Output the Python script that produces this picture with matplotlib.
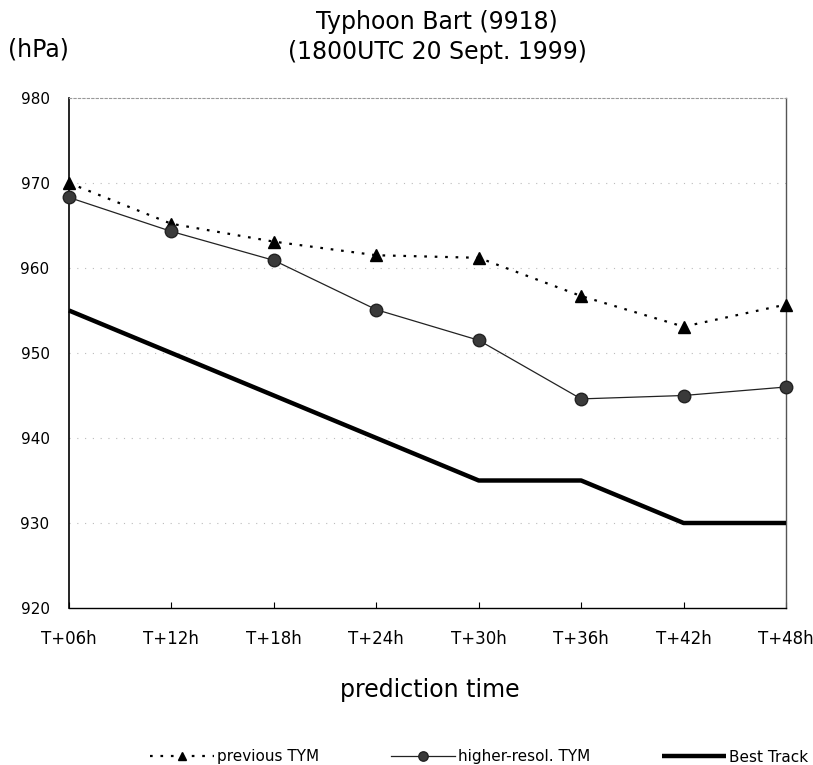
import matplotlib
matplotlib.use("Agg")
import matplotlib.pyplot as plt

times = ["T+06h", "T+12h", "T+18h", "T+24h", "T+30h", "T+36h", "T+42h", "T+48h"]
previous_tym = [970.0, 965.2, 963.1, 961.5, 961.2, 956.7, 953.1, 955.7]
higher_resol_tym = [968.3, 964.3, 960.9, 955.1, 951.5, 944.6, 945.0, 946.0]
best_track = [955, 950, 945, 940, 935, 935, 930, 930]
yticks = [920, 930, 940, 950, 960, 970, 980]

plt.rcParams['font.family'] = ['DejaVu Sans']

fig = plt.figure(figsize=(8.13, 7.65), dpi=100)
ax = fig.add_axes([69/813, 1-608/765, (786-69)/813, (608-98)/765])

x = list(range(len(times)))
ax.plot(x, previous_tym, color='black', lw=1.6, linestyle=(0, (1.2, 3.5)),
        marker='^', markersize=8, markerfacecolor='black', markeredgecolor='black',
        label='previous TYM', clip_on=False, zorder=4)
ax.plot(x, higher_resol_tym, color='#222222', lw=0.9, linestyle='-',
        marker='o', markersize=9, markerfacecolor='#3a3a3a', markeredgecolor='#222222',
        label='higher-resol. TYM', clip_on=False, zorder=4)
ax.plot(x, best_track, color='black', lw=3.2, linestyle='-',
        label='Best Track', clip_on=False, zorder=3, solid_capstyle='butt')

ax.set_xlim(0, len(times)-1)
ax.set_ylim(920, 980)
ax.set_yticks(yticks)
ax.set_xticks(x)
ax.set_xticklabels(times, fontsize=12)
ax.tick_params(axis='x', direction='in', length=4, width=0.8, pad=16)
ax.tick_params(axis='y', length=0, pad=14, labelsize=11)
for t in yticks[1:-1]:
    ax.axhline(t, color='#bbbbbb', lw=0.8, linestyle=(0, (1, 6)), zorder=1)

ax.spines['left'].set_linewidth(1.2)
ax.spines['bottom'].set_linewidth(1.0)
ax.spines['top'].set_color('#999999')
ax.spines['top'].set_linestyle((0, (2, 2)))
ax.spines['top'].set_linewidth(0.8)
ax.spines['right'].set_color('#555555')
ax.spines['right'].set_linestyle((0, (2, 1)))
ax.spines['right'].set_linewidth(1.0)

fig.text(437/813, 1-22/765, "Typhoon Bart (9918)", ha='center', va='center', fontsize=17)
fig.text(437/813, 1-52/765, "(1800UTC 20 Sept. 1999)", ha='center', va='center', fontsize=17)
fig.text(8/813, 1-50/765, "(hPa)", ha='left', va='center', fontsize=17)
fig.text(430/813, 1-690/765, "prediction time", ha='center', va='center', fontsize=17)

handles, labels = ax.get_legend_handles_labels()
fig.legend(handles, labels, loc='center', bbox_to_anchor=(479/813, 1-757/765), ncol=3,
           frameon=False, fontsize=11, handlelength=4.2, handletextpad=0.2,
           columnspacing=4.7, numpoints=1, markerscale=0.75)

fig.savefig("out.png", dpi=100)
